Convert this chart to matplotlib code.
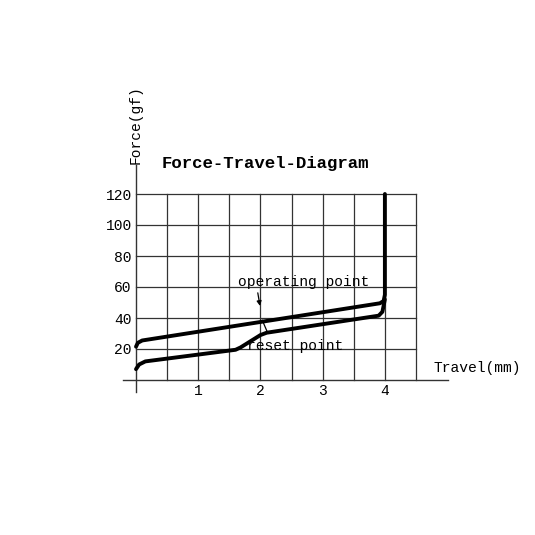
import numpy as np
import matplotlib.pyplot as plt

plt.rcParams['font.family'] = ['Liberation Mono', 'DejaVu Sans Mono']

# tick positions / labels
x_ticks = [1, 2, 3, 4]
y_ticks = [20, 40, 60, 80, 100, 120]
x_grid = np.arange(0.5, 4.51, 0.5)

# operating curve (travel mm, force gf)
op_x = [0.0, 0.03, 0.1, 3.92, 3.98, 4.0, 4.0]
op_y = [21.5, 24.0, 25.5, 49.5, 51.0, 55.0, 120.0]

# reset curve
rs_x = [0.0, 0.05, 0.15, 1.6, 1.68, 2.0, 2.1, 3.9, 3.96, 4.0]
rs_y = [7.0, 10.0, 12.0, 19.5, 21.0, 29.0, 30.5, 41.5, 44.0, 52.0]

fig = plt.figure(figsize=(5.35, 5.35), dpi=100)
ax = fig.add_axes([136 / 535, 155 / 535, 280 / 535, 186 / 535])
ax.set_xlim(0, 4.5)
ax.set_ylim(0, 120)

# grid
for xv in x_grid:
    ax.plot([xv, xv], [0, 120], color='#333333', lw=0.9, zorder=1, clip_on=False)
for yv in y_ticks:
    ax.plot([0, 4.5], [yv, yv], color='#333333', lw=0.9, zorder=1, clip_on=False)

# axis lines (extend past the grid)
ax.plot([-0.21, 5.02], [0, 0], color='#333333', lw=1.0, clip_on=False)
ax.plot([0, 0], [-7.7, 138.7], color='#333333', lw=1.0, clip_on=False)

for s in ax.spines.values():
    s.set_visible(False)

ax.set_xticks(x_ticks)
ax.set_xticklabels([str(v) for v in x_ticks])
ax.set_yticks(y_ticks)
ax.set_yticklabels([str(v) for v in y_ticks])
ax.tick_params(length=0, labelsize=10.5, pad=3)

# curves
ax.plot(op_x, op_y, color='black', lw=2.8, solid_capstyle='round',
        solid_joinstyle='round', clip_on=False, zorder=3)
ax.plot(rs_x, rs_y, color='black', lw=2.8, solid_capstyle='round',
        solid_joinstyle='round', clip_on=False, zorder=3)

# annotations
ax.text(2.7, 63, 'operating point', ha='center', va='center', fontsize=10.5)
ax.annotate('', xy=(2.0, 46), xytext=(1.95, 58),
            arrowprops=dict(arrowstyle='-|>', color='black', lw=0.9,
                            mutation_scale=7))
ax.plot([2.03, 2.11], [38.5, 31], color='black', lw=0.9)
ax.text(2.56, 22, 'reset point', ha='center', va='center', fontsize=10.5)

ax.set_title('Force-Travel-Diagram', fontsize=12.5, fontweight='bold',
             x=0.462, y=1.095)
ax.set_ylabel('Force(gf)', fontsize=10.5, va='center')
ax.yaxis.set_label_coords(0.0, 1.375)
ax.set_xlabel('Travel(mm)', fontsize=10.5, va='center', rotation=0)
ax.xaxis.set_label_coords(1.22, 0.064)

fig.savefig('out.png', dpi=100)
